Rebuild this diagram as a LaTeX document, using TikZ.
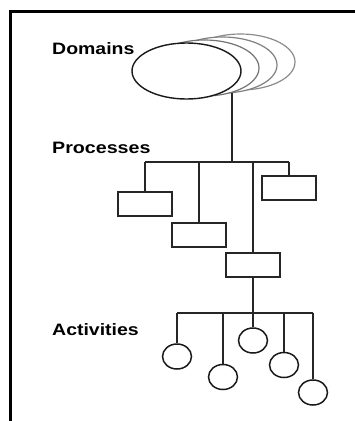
\documentclass[tikz,border=0pt]{standalone}
\usepackage{fontspec}
\setmainfont{Liberation Sans}
\usetikzlibrary{shapes.geometric}
\begin{document}
\begin{tikzpicture}[x=1pt,y=-1pt,
  level/.style={anchor=base west,inner sep=0pt,font=\fontsize{16.5}{19}\selectfont\bfseries},
  wire/.style={draw=black!85,line width=1.6pt},
  proc/.style={draw=black!85,line width=1.6pt,fill=white,minimum width=54pt,minimum height=24pt,inner sep=0pt},
  act/.style={draw=black!90,line width=1.5pt,fill=white,ellipse,minimum width=29pt,minimum height=25pt,inner sep=0pt},
  dom/.style={ellipse,fill=white,line width=1.2pt,minimum width=109pt,minimum height=56pt,inner sep=0pt}]
\useasboundingbox (0,0) rectangle (355,421);
\fill[white] (0,0) rectangle (355,421);
% frame
\draw[black,line width=3pt] (10.5,421) -- (10.5,11) -- (355,11);

% level labels
\node[level] (ld) at (52,54.5) {\scalebox{1.18}[1]{Domains}};
\node[level] (lp) at (52,153.5) {\scalebox{1.19}[1]{Processes}};
\node[level] (la) at (52,335.7) {\scalebox{1.18}[1]{Activities}};

% stacked domain ellipses, back to front
\node[dom,draw=black!45] (d3) at (240.5,62) {};
\node[dom,draw=black!50] (d2) at (222.5,65) {};
\node[dom,draw=black!55] (d1) at (204.5,68) {};
\node[dom,draw=black!90,line width=1.4pt] (d0) at (186.5,71) {};

% process level
\coordinate (droot) at (232,93);
\coordinate (pb) at (232,162);
\coordinate (pl) at (145,162);
\coordinate (pr) at (289,162);
\node[proc] (p1) at (145,204) {};
\node[proc] (p2) at (199,235) {};
\node[proc] (p3) at (253,265) {};
\node[proc] (p4) at (289,188) {};
\draw[wire] (droot) -- (pb);
\draw[wire] (pl) -- (pr);
\draw[wire] (pl) -- (p1.north);
\draw[wire] (199,162) -- (p2.north);
\draw[wire] (253,162) -- (p3.north);
\draw[wire] (pr) -- (p4.north);

% activity level
\coordinate (ab) at (253,313);
\coordinate (al) at (177,313);
\coordinate (ar) at (313,313);
\node[act] (a1) at (177,356.5) {};
\node[act] (a2) at (223,377) {};
\node[act] (a3) at (253,340.5) {};
\node[act] (a4) at (284,365) {};
\node[act] (a5) at (313,392.5) {};
\draw[wire] (p3.south) -- (ab);
\draw[wire] (al) -- (ar);
\draw[wire] (al) -- (a1.north);
\draw[wire] (223,313) -- (a2.north);
\draw[wire] (253,313) -- (a3.north);
\draw[wire] (284,313) -- (a4.north);
\draw[wire] (ar) -- (a5.north);
\end{tikzpicture}
\end{document}
